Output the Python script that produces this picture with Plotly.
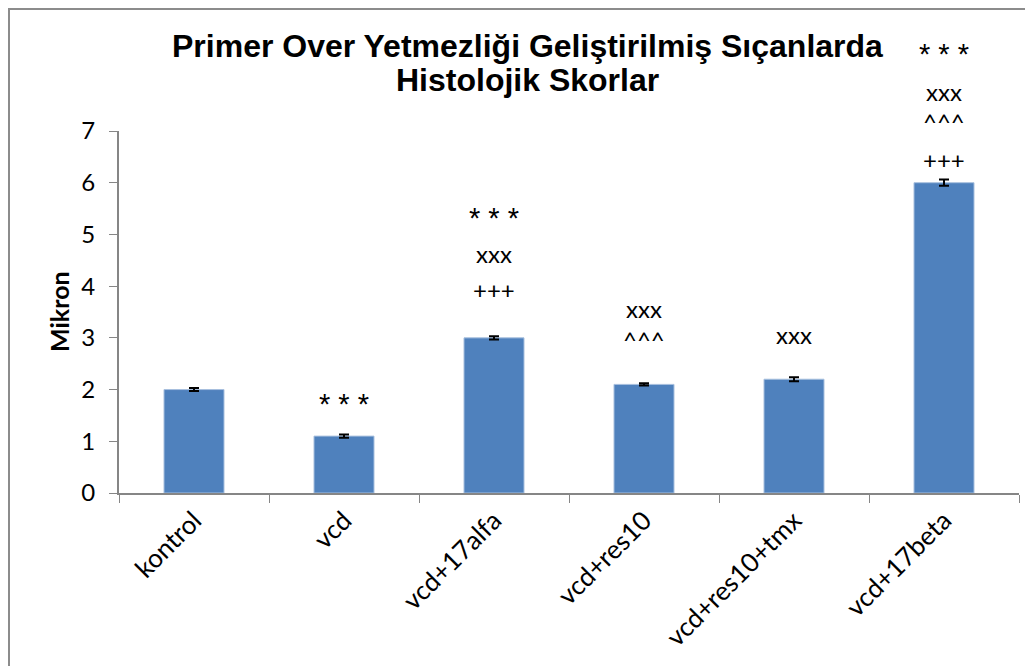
import plotly.graph_objects as go

categories = ["kontrol", "vcd", "vcd+17alfa", "vcd+res10", "vcd+res10+tmx", "vcd+17beta"]
values = [2.0, 1.1, 3.0, 2.1, 2.2, 6.0]
errors = [0.03, 0.03, 0.03, 0.02, 0.04, 0.06]

# significance marks: (category, y value, text)
marks = [
    ("vcd", 1.84, "* * *"),
    ("vcd+17alfa", 5.43, "* * *"),
    ("vcd+17alfa", 4.64, "xxx"),
    ("vcd+17alfa", 3.93, "+++"),
    ("vcd+res10", 3.56, "xxx"),
    ("vcd+res10", 2.96, "^^^"),
    ("vcd+res10+tmx", 3.06, "xxx"),
    ("vcd+17beta", 8.60, "* * *"),
    ("vcd+17beta", 7.76, "xxx"),
    ("vcd+17beta", 7.18, "^^^"),
    ("vcd+17beta", 6.44, "+++"),
]
y_max = 7

W, H = 1033, 666
L, T = 111, 123
pw, ph = 900, 362
R, B = W - L - pw, H - T - ph


def px(fx):
    return (fx - L) / pw


def py(fy):
    return (H - B - fy) / ph


fig = go.Figure(go.Bar(
    x=categories, y=values,
    marker=dict(color="#4F81BD", line=dict(color="#A7BFDE", width=1)),
    error_y=dict(type="data", array=errors, color="black", thickness=2, width=5),
))

for cat, y, txt in marks:
    star = txt.startswith("*")
    fig.add_annotation(x=cat, y=y / y_max, yref="paper", text=txt, showarrow=False,
                       xanchor="center", yanchor="middle",
                       yshift=-6 if star else 0,
                       font=dict(family="Liberation Sans" if star else "Lato",
                                 size=29 if star else 24, color="black"))

# title as two tight lines
title_font = dict(family="Liberation Sans", size=32, color="black")
fig.add_annotation(x=px(519), y=py(38), xref="paper", yref="paper",
                   xanchor="center", yanchor="middle",
                   text="<b>Primer Over Yetmezliği Geliştirilmiş Sıçanlarda</b>",
                   showarrow=False, font=title_font)
fig.add_annotation(x=px(519), y=py(72), xref="paper", yref="paper",
                   xanchor="center", yanchor="middle",
                   text="<b>Histolojik Skorlar</b>", showarrow=False, font=title_font)

# y axis title
fig.add_annotation(x=px(51), y=py(304), xref="paper", yref="paper",
                   xanchor="center", yanchor="middle",
                   text="<b>Mikron</b>", textangle=-90, showarrow=False,
                   font=dict(family="Lato", size=25, color="black"))

# outer chart border
fig.add_shape(type="rect", xref="paper", yref="paper",
              x0=px(1), x1=px(1022), y0=py(H + 20), y1=py(1),
              line=dict(color="#8C8C8C", width=2))

fig.update_layout(
    width=W, height=H,
    margin=dict(l=L, r=R, t=T, b=B),
    plot_bgcolor="white", paper_bgcolor="white",
    bargap=0.6, showlegend=False,
    xaxis=dict(showline=True, linecolor="#868686", linewidth=2,
               ticks="outside", tickson="boundaries", ticklen=8, tickcolor="#868686",
               tickangle=-45,
               tickfont=dict(family="Lato", size=26, color="black")),
    yaxis=dict(range=[0, y_max], dtick=1, showgrid=False, zeroline=False,
               showline=True, linecolor="#868686", linewidth=2,
               ticks="outside", ticklen=8, tickcolor="#868686",
               ticklabelstandoff=9,
               tickfont=dict(family="Lato", size=24, color="black")),
)

fig.write_html("out.html")
